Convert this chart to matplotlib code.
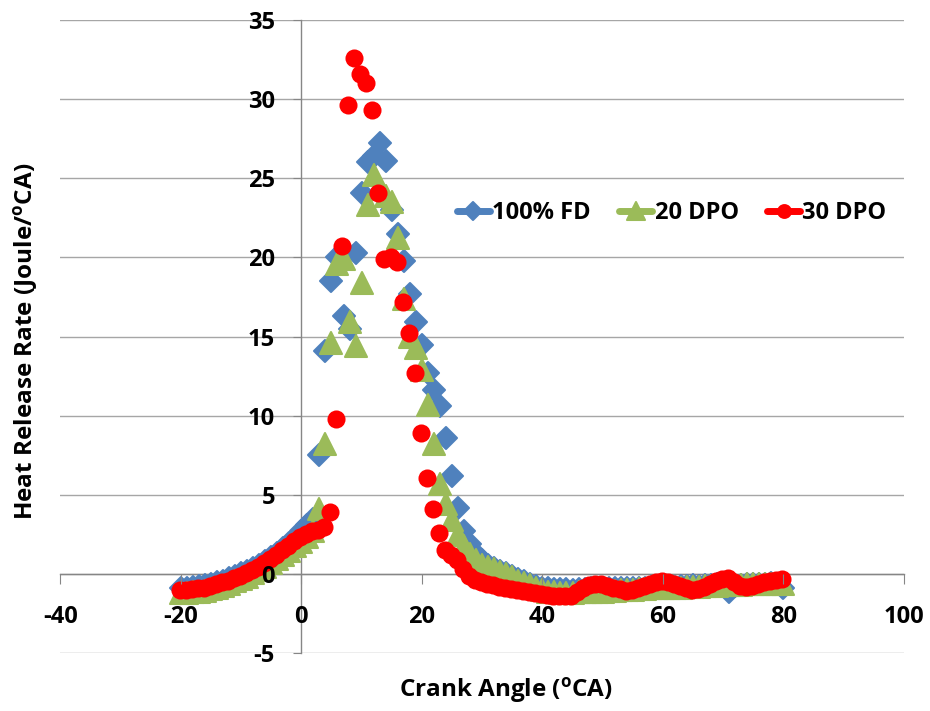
import numpy as np
import matplotlib
matplotlib.use('Agg')
import matplotlib.pyplot as plt
from matplotlib.lines import Line2D
from matplotlib.markers import MarkerStyle

plt.rcParams['font.family'] = ['Open Sans', 'DejaVu Sans']
plt.rcParams['font.weight'] = 'bold'
plt.rcParams['mathtext.default'] = 'regular'
plt.rcParams['axes.unicode_minus'] = False

# crank angle grids (deg CA)
angle_fd = np.arange(-20, 81)
angle_dpo20 = np.arange(-20, 81)
angle_dpo30 = np.arange(101) - 20.2

# heat release rate (J/deg CA)
hrr_fd = [-0.85, -0.85, -0.8, -0.75, -0.7, -0.6, -0.5, -0.4, -0.25, -0.1,
          0.05, 0.2, 0.4, 0.6, 0.85, 1.1, 1.35, 1.65, 1.95, 2.3,
          2.7, 3.1, 3.5, 7.5, 14.1, 18.5, 20.0, 16.3, 15.5, 20.3,
          24.1, 26.0, 26.4, 27.2, 26.1, 23.0, 21.5, 19.8, 17.7, 15.9,
          14.5, 12.7, 11.6, 10.6, 8.6, 6.2, 4.2, 2.7, 1.9, 1.3,
          0.9, 0.6, 0.4, 0.2, 0.05, -0.1, -0.3, -0.45, -0.6, -0.75,
          -0.85, -0.9, -0.95, -0.95, -0.95, -1.0, -0.95, -0.95, -0.9, -0.9,
          -0.95, -0.9, -0.9, -0.9, -0.85, -0.9, -0.85, -0.85, -0.8, -0.8,
          -0.8, -0.75, -0.8, -0.75, -0.75, -0.7, -0.75, -0.7, -0.7, -0.65,
          -0.65, -1.1, -0.75, -0.7, -0.65, -0.65, -0.6, -0.6, -0.55, -0.6,
          -0.9]
hrr_dpo20 = [-1.2, -1.2, -1.15, -1.1, -1.05, -0.95, -0.85, -0.75, -0.6, -0.45,
             -0.3, -0.15, 0.05, 0.25, 0.45, 0.7, 0.95, 1.2, 1.45, 1.75,
             2.05, 2.35, 2.7, 4.1, 8.2, 14.6, 19.6, 19.9, 15.9, 14.4,
             18.4, 23.3, 25.2, 24.3, 23.9, 23.5, 21.2, 17.4, 15.0, 14.3,
             12.9, 10.7, 8.2, 5.7, 4.4, 3.4, 2.5, 1.8, 1.3, 0.9,
             0.6, 0.45, 0.3, 0.15, 0.0, -0.2, -0.4, -0.55, -0.7, -0.85,
             -1.0, -1.1, -1.15, -1.2, -1.2, -1.2, -1.15, -1.15, -1.1, -1.1,
             -1.1, -1.05, -1.05, -1.0, -1.0, -1.0, -0.95, -0.95, -0.9, -0.9,
             -0.9, -0.85, -0.85, -0.85, -0.8, -0.8, -0.8, -0.75, -0.75, -0.75,
             -0.7, -0.7, -0.7, -0.7, -0.65, -0.65, -0.65, -0.6, -0.6, -0.6,
             -0.65]
hrr_dpo30 = [-1.0, -1.0, -0.95, -0.9, -0.85, -0.75, -0.65, -0.5, -0.4, -0.25,
             -0.1, 0.05, 0.25, 0.45, 0.7, 0.95, 1.2, 1.5, 1.8, 2.1,
             2.35, 2.55, 2.7, 2.8, 2.95, 3.9, 9.8, 20.7, 29.6, 32.6,
             31.6, 31.0, 29.3, 24.1, 19.9, 20.0, 19.7, 17.2, 15.2, 12.7,
             8.9, 6.1, 4.1, 2.6, 1.55, 1.2, 0.9, 0.3, -0.1, -0.35,
             -0.5, -0.6, -0.7, -0.8, -0.85, -0.95, -1.0, -1.05, -1.1, -1.2,
             -1.25, -1.3, -1.35, -1.4, -1.4, -1.35, -1.15, -0.9, -0.7, -0.6,
             -0.65, -0.75, -0.85, -0.95, -1.05, -1.0, -0.9, -0.75, -0.6, -0.5,
             -0.45, -0.5, -0.6, -0.75, -0.9, -1.0, -0.95, -0.8, -0.65, -0.45,
             -0.3, -0.25, -0.5, -0.75, -0.8, -0.75, -0.6, -0.5, -0.4, -0.35,
             -0.3]

labels = ['100% FD', '20 DPO', '30 DPO']
colors = ['#4F81BD', '#9BBB59', '#FF0000']
markers = ['D', '^', 'o']
sizes = [11.5, 16, 11.5]

fig = plt.figure(figsize=(9.3, 7.11), dpi=100)
ax = fig.add_axes([0.0648, 0.0811, 0.9072, 0.8908])

series = [(angle_fd, hrr_fd), (angle_dpo20, hrr_dpo20), (angle_dpo30, hrr_dpo30)]
handles = []
for (xs, ys), lab, c, m, s in zip(series, labels, colors, markers, sizes):
    ms = MarkerStyle(m, joinstyle='round')
    ax.plot(xs, ys, linestyle='none', marker=ms, ms=s, color=c,
            mec=c, mew=1.5, zorder=2)
    handles.append(Line2D([], [], color=c, lw=5, marker=ms, ms=s * 0.8,
                          mec=c, mew=1.5, solid_capstyle='round'))

ax.set_xlim(-40, 100)
ax.set_ylim(-5, 35)
ax.set_xticks(range(-40, 101, 20))
ax.set_yticks(range(-5, 36, 5))

# gridlines drawn by hand so they sit under the markers,
# while tick labels stay on top of them
for yv in range(-5, 36, 5):
    ax.axhline(yv, color='#a6a6a6', lw=1, zorder=1)

for side in ['top', 'right']:
    ax.spines[side].set_visible(False)
ax.spines['left'].set_position(('data', 0))
ax.spines['bottom'].set_position(('data', 0))
for side in ['left', 'bottom']:
    ax.spines[side].set_color('#868686')
    ax.spines[side].set_linewidth(1)
    ax.spines[side].set_zorder(1.5)
ax.xaxis.set_zorder(3)
ax.yaxis.set_zorder(3)

ax.tick_params(axis='x', direction='out', length=7, color='#868686',
               pad=15, labelsize=17)
ax.tick_params(axis='y', direction='out', length=6, color='#868686',
               pad=13, labelsize=17)

ax.legend(handles, labels, loc='center left', bbox_to_anchor=(0.470, 0.695),
          ncol=3, frameon=False, fontsize=17, borderaxespad=0, borderpad=0,
          handlelength=1.4, handletextpad=0.1, columnspacing=1.2)

fig.text(506 / 930, 1 - 691 / 711, r'Crank Angle ($\mathregular{^o}$CA)',
         ha='center', va='center', fontsize=17.5, fontweight='bold')
fig.text(26 / 930, 1 - 341 / 711, r'Heat Release Rate (Joule/$\mathregular{^o}$CA)',
         ha='center', va='center', rotation=90, fontsize=17.5, fontweight='bold')

fig.savefig('out.png', dpi=100)
